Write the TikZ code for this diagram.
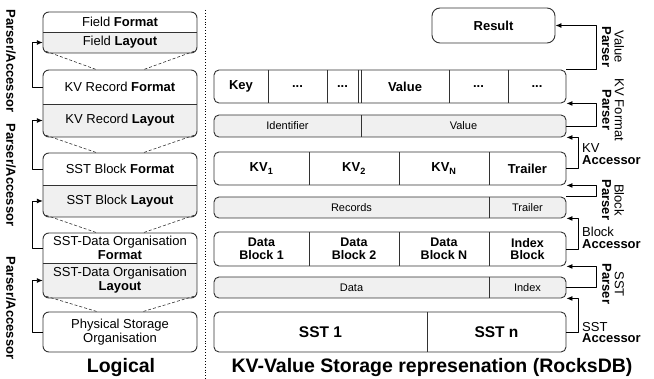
\documentclass[tikz,border=0pt]{standalone}
\usepackage{fontspec}
\setmainfont{Liberation Sans}
\usetikzlibrary{arrows.meta}
\definecolor{layoutgray}{RGB}{240,240,240}
\definecolor{edgegray}{RGB}{50,50,50}

\begin{document}
\begin{tikzpicture}[
                x=1pt, y=-1pt,
                line join=round,
                half/.style={minimum width=154pt, inner sep=0pt, align=center, font=\fontsize{13}{14}\selectfont},
                row/.style={draw=edgegray, line width=0.9pt, rounded corners=5pt, minimum width=352pt, inner sep=0pt},
                fmtrow/.style={row, fill=white},
                layrow/.style={row, fill=layoutgray},
                cell/.style={font=\bfseries\fontsize{13}{14}\selectfont, align=center, inner sep=0pt},
                laycell/.style={font=\fontsize{11}{12}\selectfont, inner sep=0pt},
                arr/.style={-{Latex[length=6pt,width=5pt]}, line width=0.9pt},
                trap/.style={densely dashed, edgegray, line width=0.6pt},
                sidelabel/.style={font=\bfseries\fontsize{13}{13}\selectfont, rotate=-90, inner sep=0pt},
                parselabel/.style={font=\fontsize{13}{12.5}\selectfont, rotate=-90, align=center, inner sep=0pt},
                acclabel/.style={font=\fontsize{13}{11.5}\selectfont, anchor=west, align=left, inner sep=0pt},
                titlelabel/.style={font=\bfseries\fontsize{19.5}{20}\selectfont, anchor=base}
                ]
                \useasboundingbox (0,0) rectangle (654,379);

                %% Logical side
                \foreach \gn/\gt/\gm/\gb in {fld/12/32/53, kvr/70/104/137, blk/153/185/217, org/233/263/298} {
                    \begin{scope}
                        \clip[rounded corners=6pt] (43,\gt) rectangle (197,\gb);
                        \fill[layoutgray] (43,\gm) rectangle (197,\gb);
                    \end{scope}
                    \draw[edgegray, line width=0.9pt, rounded corners=6pt] (43,\gt) rectangle (197,\gb);
                    \draw[edgegray, line width=0.9pt] (43,\gm) -- (197,\gm);
                }

                \node[half, minimum height=20pt] (fldfmt) at (120,22) {Field \textbf{Format}};
                \node[half, minimum height=21pt] (fldlay) at (120,42.5) {Field \textbf{Layout}};
                \node[half, minimum height=34pt] (kvrfmt) at (120,87) {KV Record \textbf{Format}};
                \node[half, minimum height=33pt] (kvrlay) at (120,120.5) {KV Record \textbf{Layout}};
                \node[half, minimum height=32pt] (blkfmt) at (120,169) {SST Block \textbf{Format}};
                \node[half, minimum height=32pt] (blklay) at (120,201) {SST Block \textbf{Layout}};
                \node[half, minimum height=30pt] (orgfmt) at (120,248) {SST-Data Organisation\\\textbf{Format}};
                \node[half, minimum height=35pt] (orglay) at (120,280.5) {SST-Data Organisation\\\textbf{Layout}};
                \node[half, minimum height=40pt, draw=edgegray, line width=0.9pt, rounded corners=6pt] (phys) at (120,332) {Physical Storage\\Organisation};

                % dashed funnels between levels
                \foreach \lo/\hi in {fldlay/kvrfmt, kvrlay/blkfmt, blklay/orgfmt, orglay/phys} {
                    \draw[trap] ([xshift=3pt,yshift=2pt]\lo.south west) -- ([xshift=-23pt]\hi.north);
                    \draw[trap] ([xshift=-3pt,yshift=2pt]\lo.south east) -- ([xshift=23pt]\hi.north);
                }

                % parser/accessor arrows
                \draw[arr] (kvrfmt.west) -- ++(-10,0) |- (fldlay.west);
                \draw[arr] (blkfmt.west) -- ++(-10,0) |- (kvrlay.west);
                \draw[arr] (orgfmt.west) -- ++(-10,0) |- (blklay.west);
                \draw[arr] (phys.west) -- ++(-10,0) |- (orglay.west);

                \node[sidelabel] (pa1) at (11,61) {Parser/Accessor};
                \node[sidelabel] (pa2) at (11,175) {Parser/Accessor};
                \node[sidelabel] (pa3) at (11,308) {Parser/Accessor};

                \node[titlelabel] (logical) at (121,373) {Logical};

                % separator
                \draw[dotted, line width=0.9pt] (205,10) -- (205,379);

                %% RocksDB side
                \node[fmtrow, minimum width=123pt, minimum height=35pt, rounded corners=8pt] (result) at (493.5,25.5) {\bfseries\fontsize{13}{14}\selectfont Result};

                \node[fmtrow, minimum height=33pt] (kvrec) at (390,86.5) {};
                \node[layrow, minimum height=22pt] (idval) at (390,126) {};
                \node[fmtrow, minimum height=33pt] (kvs) at (390,168.5) {};
                \node[layrow, minimum height=21pt] (recs) at (390,207.5) {};
                \node[fmtrow, minimum height=34pt] (blks) at (390,249) {};
                \node[layrow, minimum height=21pt] (data) at (390,287.5) {};
                \node[fmtrow, minimum height=40pt] (ssts) at (390,332) {};

                % cell borders
                \foreach \x in {268, 327, 358, 361, 449, 508} {
                    \draw[edgegray, line width=0.9pt] (\x,70) -- (\x,103);
                }
                \draw[edgegray, line width=0.9pt] (361,115) -- (361,137);
                \foreach \x in {309, 399, 489} {
                    \draw[edgegray, line width=0.9pt] (\x,152) -- (\x,185);
                    \draw[edgegray, line width=0.9pt] (\x,232) -- (\x,266);
                }
                \draw[edgegray, line width=0.9pt] (489,197) -- (489,218);
                \draw[edgegray, line width=0.9pt] (489,277) -- (489,298);
                \draw[edgegray, line width=0.9pt] (427,312) -- (427,352);

                % cell texts
                \node[cell] (key) at (241,86.5) {Key};
                \node[cell] (kdots1) at (297.5,86.5) {...};
                \node[cell] (kdots2) at (342.5,86.5) {...};
                \node[cell] (value) at (405,86.5) {Value};
                \node[cell] (vdots1) at (478.5,86.5) {...};
                \node[cell] (vdots2) at (537,86.5) {...};

                \node[laycell] (ident) at (287.5,126) {Identifier};
                \node[laycell] (valfld) at (463.5,126) {Value};

                \node[cell] (kvone) at (261.5,168.5) {KV\textsubscript{1}};
                \node[cell] (kvtwo) at (354,168.5) {KV\textsubscript{2}};
                \node[cell] (kvn) at (444,168.5) {KV\textsubscript{N}};
                \node[cell] (trail) at (527.5,168.5) {Trailer};

                \node[laycell] (records) at (351.5,207.5) {Records};
                \node[laycell] (trailfld) at (527.5,207.5) {Trailer};

                \node[cell, font=\bfseries\fontsize{12.5}{12.5}\selectfont] (dbone) at (261.5,249) {Data\\Block 1};
                \node[cell, font=\bfseries\fontsize{12.5}{12.5}\selectfont] (dbtwo) at (354,249) {Data\\Block 2};
                \node[cell, font=\bfseries\fontsize{12.5}{12.5}\selectfont] (dbn) at (444,249) {Data\\Block N};
                \node[cell, font=\bfseries\fontsize{12.5}{12.5}\selectfont] (idxblk) at (527.5,249) {Index\\Block};

                \node[laycell] (datafld) at (351.5,287.5) {Data};
                \node[laycell] (idxfld) at (527.5,287.5) {Index};

                \node[cell, font=\bfseries\fontsize{15.5}{16}\selectfont] (sstone) at (320.5,332) {SST 1};
                \node[cell, font=\bfseries\fontsize{15.5}{16}\selectfont] (sstn) at (496.5,332) {SST n};

                % parser / accessor arrows
                \draw[arr] (kvrec.north east) -- ++(30,0) |- (result.east);
                \draw[arr] (idval.east) -- ++(30,0) |- (kvrec.south east);
                \draw[arr] (kvs.east) -- ++(12,0) |- (idval.south east);
                \draw[arr] (recs.north east) -- ++(30,0) |- (kvs.south east);
                \draw[arr] (blks.east) -- ++(12,0) |- (recs.south east);
                \draw[arr] (data.east) -- ++(30,0) |- (blks.south east);
                \draw[arr] (ssts.east) -- ++(12,0) |- (data.south east);

                \node[parselabel] (valparse) at (613,47) {Value\\\textbf{Parser}};
                \node[parselabel] (kvparse) at (613,110) {KV Format\\\textbf{Parser}};
                \node[parselabel] (blkparse) at (613,200) {Block\\\textbf{Parser}};
                \node[parselabel] (sstparse) at (613,284) {SST\\\textbf{Parser}};

                \node[acclabel] (kvacc) at (582,154) {KV\\\textbf{Accessor}};
                \node[acclabel] (blkacc) at (582,238) {Block\\\textbf{Accessor}};
                \node[acclabel] (sstacc) at (582,332.5) {SST\\\textbf{Accessor}};

                \node[titlelabel] (rockstitle) at (432,373) {KV-Value Storage represenation (RocksDB)};
\end{tikzpicture}
\end{document}
